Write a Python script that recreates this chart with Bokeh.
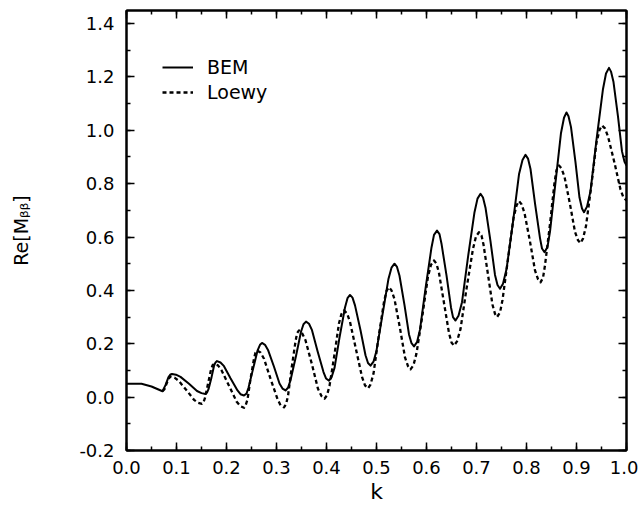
from bokeh.plotting import figure
from bokeh.models import (Range1d, LinearAxis, SingleIntervalTicker, PrintfTickFormatter,
                          CustomJSTickFormatter, Legend, LegendItem)
from bokeh.embed import file_html
from bokeh.resources import INLINE

# ---- data ----
k_bem = [0.000, 0.030, 0.050, 0.072, 0.078, 0.084, 0.088, 0.091,
         0.099, 0.108, 0.125, 0.141, 0.150, 0.158,
         0.161, 0.164, 0.170, 0.175, 0.178, 0.181,
         0.188, 0.195, 0.208, 0.222, 0.228, 0.235,
         0.240, 0.244, 0.253, 0.262, 0.267, 0.271,
         0.277, 0.283, 0.295, 0.306, 0.312, 0.318,
         0.323, 0.328, 0.339, 0.349, 0.354, 0.359,
         0.365, 0.371, 0.382, 0.394, 0.399, 0.405,
         0.410, 0.416, 0.426, 0.437, 0.442, 0.447,
         0.452, 0.457, 0.468, 0.478, 0.483, 0.488,
         0.494, 0.500, 0.512, 0.524, 0.530, 0.536,
         0.541, 0.546, 0.556, 0.565, 0.570, 0.575,
         0.581, 0.587, 0.598, 0.610, 0.615, 0.621,
         0.626, 0.630, 0.640, 0.649, 0.653, 0.658,
         0.664, 0.671, 0.683, 0.696, 0.702, 0.708,
         0.713, 0.718, 0.728, 0.737, 0.742, 0.747,
         0.753, 0.760, 0.773, 0.785, 0.792, 0.798,
         0.803, 0.808, 0.817, 0.827, 0.831, 0.836,
         0.842, 0.847, 0.858, 0.869, 0.875, 0.880,
         0.884, 0.889, 0.898, 0.906, 0.911, 0.915,
         0.921, 0.928, 0.940, 0.953, 0.959, 0.965,
         0.969, 0.974, 0.983, 0.991, 0.996, 1.000]
v_bem = [0.050, 0.050, 0.040, 0.022, 0.045, 0.075, 0.085, 0.087,
         0.084, 0.076, 0.050, 0.023, 0.015, 0.012,
         0.017, 0.030, 0.074, 0.117, 0.130, 0.135,
         0.130, 0.116, 0.071, 0.025, 0.011, 0.006,
         0.013, 0.035, 0.105, 0.174, 0.196, 0.203,
         0.196, 0.177, 0.114, 0.051, 0.032, 0.025,
         0.035, 0.063, 0.154, 0.245, 0.273, 0.283,
         0.275, 0.251, 0.173, 0.094, 0.070, 0.062,
         0.074, 0.109, 0.223, 0.336, 0.371, 0.383,
         0.373, 0.344, 0.251, 0.157, 0.128, 0.118,
         0.133, 0.174, 0.309, 0.444, 0.485, 0.500,
         0.488, 0.455, 0.345, 0.235, 0.202, 0.190,
         0.206, 0.253, 0.407, 0.561, 0.608, 0.624,
         0.611, 0.575, 0.456, 0.336, 0.300, 0.287,
         0.305, 0.356, 0.525, 0.693, 0.744, 0.762,
         0.748, 0.710, 0.584, 0.458, 0.420, 0.406,
         0.425, 0.479, 0.657, 0.835, 0.889, 0.908,
         0.894, 0.855, 0.726, 0.596, 0.557, 0.543,
         0.563, 0.620, 0.805, 0.990, 1.047, 1.067,
         1.053, 1.012, 0.880, 0.748, 0.707, 0.693,
         0.714, 0.772, 0.964, 1.155, 1.213, 1.234,
         1.220, 1.181, 1.051, 0.921, 0.882, 0.868]

k_loewy = [0.072, 0.076, 0.080, 0.084, 0.088,
           0.096, 0.104, 0.120, 0.135, 0.143, 0.151,
           0.154, 0.157, 0.163, 0.169, 0.172, 0.175,
           0.183, 0.190, 0.205, 0.220, 0.228, 0.235,
           0.238, 0.242, 0.248, 0.255, 0.258, 0.261,
           0.268, 0.275, 0.288, 0.302, 0.308, 0.315,
           0.319, 0.323, 0.330, 0.338, 0.341, 0.345,
           0.351, 0.358, 0.371, 0.383, 0.390, 0.396,
           0.401, 0.406, 0.416, 0.425, 0.430, 0.435,
           0.441, 0.447, 0.459, 0.471, 0.477, 0.483,
           0.488, 0.494, 0.504, 0.515, 0.520, 0.525,
           0.530, 0.536, 0.547, 0.557, 0.563, 0.568,
           0.574, 0.580, 0.592, 0.603, 0.609, 0.615,
           0.620, 0.625, 0.635, 0.645, 0.650, 0.655,
           0.661, 0.668, 0.680, 0.693, 0.699, 0.705,
           0.710, 0.714, 0.723, 0.732, 0.737, 0.741,
           0.747, 0.752, 0.763, 0.774, 0.780, 0.785,
           0.790, 0.796, 0.807, 0.817, 0.823, 0.828,
           0.833, 0.837, 0.847, 0.856, 0.860, 0.865,
           0.870, 0.876, 0.887, 0.897, 0.903, 0.908,
           0.913, 0.919, 0.930, 0.940, 0.946, 0.951,
           0.957, 0.963, 0.976, 0.988, 0.994, 1.000]
v_loewy = [0.022, 0.030, 0.050, 0.068, 0.077,
           0.073, 0.062, 0.026, -0.010, -0.021, -0.025,
           -0.019, -0.003, 0.050, 0.103, 0.119, 0.125,
           0.119, 0.101, 0.043, -0.016, -0.034, -0.040,
           -0.032, -0.009, 0.068, 0.144, 0.167, 0.175,
           0.167, 0.144, 0.069, -0.007, -0.030, -0.038,
           -0.027, 0.004, 0.106, 0.208, 0.239, 0.250,
           0.240, 0.213, 0.122, 0.031, 0.004, -0.006,
           0.007, 0.042, 0.160, 0.277, 0.312, 0.325,
           0.314, 0.282, 0.179, 0.076, 0.044, 0.033,
           0.047, 0.088, 0.223, 0.357, 0.398, 0.412,
           0.400, 0.367, 0.258, 0.149, 0.116, 0.104,
           0.120, 0.164, 0.308, 0.452, 0.496, 0.512,
           0.500, 0.465, 0.353, 0.240, 0.205, 0.193,
           0.209, 0.255, 0.406, 0.556, 0.602, 0.618,
           0.606, 0.572, 0.459, 0.346, 0.312, 0.300,
           0.317, 0.364, 0.518, 0.671, 0.718, 0.735,
           0.723, 0.690, 0.583, 0.475, 0.442, 0.430,
           0.447, 0.494, 0.649, 0.804, 0.851, 0.868,
           0.857, 0.826, 0.723, 0.619, 0.588, 0.577,
           0.594, 0.641, 0.798, 0.954, 1.001, 1.018,
           1.007, 0.977, 0.878, 0.778, 0.748, 0.737]

series_names = ["BEM", "Loewy"]
x_label = "k"
y_label = "Re[M\u1d66\u1d66]"

FONT = "DejaVu Sans"

p = figure(frame_width=500, frame_height=440,
           x_range=Range1d(0.0, 1.0), y_range=Range1d(-0.2, 1.449),
           output_backend="svg", toolbar_location=None,
           x_axis_location=None, y_axis_location=None,
           min_border_left=126, min_border_right=12,
           min_border_top=10, min_border_bottom=50)
p.background_fill_color = "white"
p.border_fill_color = "white"
p.grid.visible = False
p.outline_line_color = "black"
p.outline_line_width = 2


def make_axis(interval, show_labels):
    ax = LinearAxis(ticker=SingleIntervalTicker(interval=interval, num_minor_ticks=2))
    ax.axis_line_width = 2
    ax.axis_line_color = "black"
    ax.major_tick_in = 8
    ax.major_tick_out = 0
    ax.minor_tick_in = 4
    ax.minor_tick_out = 0
    ax.major_tick_line_width = 1.5
    ax.minor_tick_line_width = 1.5
    ax.major_tick_line_color = "black"
    ax.minor_tick_line_color = "black"
    if show_labels:
        ax.formatter = PrintfTickFormatter(format="%.1f")
        ax.major_label_text_font = FONT
        ax.major_label_text_font_size = "18px"
        ax.major_label_text_color = "black"
    else:
        ax.formatter = CustomJSTickFormatter(code="return ''")
        ax.major_label_standoff = 0
    return ax


xb = make_axis(0.1, True)
xb.major_label_standoff = 10
xb.axis_label = x_label
xb.axis_label_text_font = FONT
xb.axis_label_text_font_style = "normal"
xb.axis_label_text_font_size = "22px"
xb.axis_label_text_color = "black"
xb.axis_label_standoff = 2
p.add_layout(xb, "below")

yl = make_axis(0.2, True)
yl.major_label_standoff = 12
yl.axis_label = y_label
yl.axis_label_text_font = FONT
yl.axis_label_text_font_style = "normal"
yl.axis_label_text_font_size = "19px"
yl.axis_label_text_color = "black"
yl.axis_label_standoff = 44
p.add_layout(yl, "left")

p.add_layout(make_axis(0.1, False), "above")
p.add_layout(make_axis(0.2, False), "right")

r_bem = p.line(k_bem, v_bem, line_color="black", line_width=2, line_join="round")
r_loewy = p.line(k_loewy, v_loewy, line_color="black", line_width=2.3,
                 line_dash="4 3", line_join="round")

legend = Legend(items=[LegendItem(label=series_names[0], renderers=[r_bem]),
                       LegendItem(label=series_names[1], renderers=[r_loewy])],
                location=(36, 347), orientation="vertical")
legend.background_fill_alpha = 0
legend.border_line_color = None
legend.label_text_font = FONT
legend.label_text_font_size = "19px"
legend.label_text_color = "black"
legend.glyph_width = 31
legend.glyph_height = 20
legend.label_height = 20
legend.label_standoff = 14
legend.spacing = 3
legend.padding = 0
legend.margin = 0
p.add_layout(legend, "center")

open("out.html", "w").write(file_html(p, INLINE))
